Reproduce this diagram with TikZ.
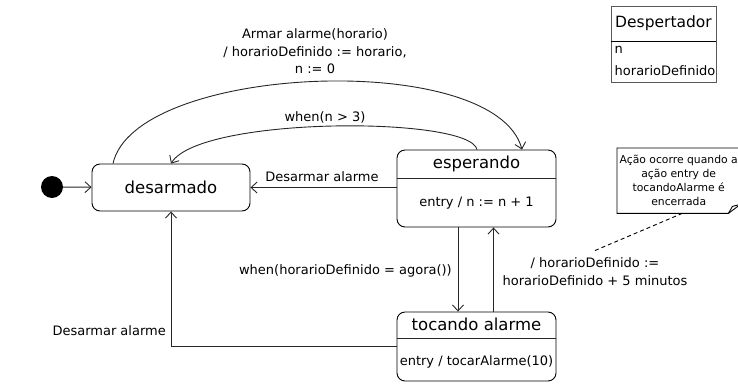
\documentclass[tikz,border=0pt]{standalone}
\usepackage{fontspec}
\setmainfont{DejaVu Sans}
\usetikzlibrary{arrows.meta}
\tikzset{
  tr/.style={draw=black!85, line width=0.9pt, -{Straight Barb[length=6pt,width=11pt,line width=0.9pt]}},
  plain/.style={draw=black!85, line width=0.9pt},
  statebox/.style={draw=black, line width=0.9pt, rounded corners=8pt, inner sep=0pt},
  big/.style={font=\fontsize{16.5}{19}\selectfont, inner sep=0pt},
  lbl/.style={font=\fontsize{13}{17.5}\selectfont, align=center, inner sep=0pt},
  notetxt/.style={font=\fontsize{10.8}{14}\selectfont, align=center, inner sep=0pt},
}
\begin{document}
\begin{tikzpicture}[x=1pt,y=-1pt]
\useasboundingbox (0,0) rectangle (738,383);
% initial
\node[circle, fill=black, minimum size=22pt, inner sep=0pt] (init) at (52,187) {};
% desarmado
\node[statebox, big, minimum width=158pt, minimum height=47pt] (des) at (171,187.5) {desarmado};
% esperando
\node[statebox, minimum width=159pt, minimum height=77pt] (esp) at (476.5,188.5) {};
\node[big] (espt) at (476.5,164) {esperando};
\coordinate (espsep) at (0,178);
\draw[plain] (esp.west |- espsep) -- (esp.east |- espsep);
\node[lbl] (espe) at (476.5,203) {entry / n := n + 1};
% tocando alarme
\node[statebox, minimum width=159pt, minimum height=69pt] (toc) at (476.5,346.5) {};
\node[big] (toct) at (476.5,324) {tocando alarme};
\coordinate (tocsep) at (0,338);
\draw[plain] (toc.west |- tocsep) -- (toc.east |- tocsep);
\node[lbl] (toce) at (476.5,362) {entry / tocarAlarme(10)};
% class box
\node[draw=black!65, line width=0.9pt, minimum width=105pt, minimum height=76pt, inner sep=0pt] (cls) at (663.5,44) {};
\node[big, font=\fontsize{15.5}{18}\selectfont] (clst) at (663.5,23) {Despertador};
\coordinate (clssep) at (0,41);
\draw[line width=0.9pt] (cls.west |- clssep) -- (cls.east |- clssep);
\node[lbl, anchor=west] (clsa) at (614.5,50) {n};
\node[lbl, anchor=west] (clsb) at (614.5,70.5) {horarioDefinido};
% note
\node[notetxt, minimum width=123pt, minimum height=65pt, anchor=north west] (note) at (617,148) {Ação ocorre quando a\\ação entry de\\tocandoAlarme é\\encerrada};
\draw[line width=0.9pt] (note.north west) -- (note.north east) -- ([yshift=9pt]note.south east) -- ([xshift=-12pt]note.south east) -- (note.south west) -- cycle;
\draw[line width=0.9pt] ([xshift=-12pt]note.south east) -- ([xshift=-8pt,yshift=7pt]note.south east) -- ([yshift=9pt]note.south east);
% transitions
\draw[tr] (init) -- (des);
\draw[tr] ([xshift=-58pt]des.north) .. controls (135,64) and (495,49) .. ([xshift=45.5pt]esp.north);
\node[lbl] (l1) at (315,51.5) {Armar alarme(horario)\\/ horarioDefinido := horario,\\n := 0};
\draw[tr] ([xshift=0.5pt]esp.north) .. controls (470,116) and (200,116) .. (des.north);
\node[lbl] (l2) at (325,117) {when(n > 3)};
\draw[tr] (esp.west |- des.east) -- (des.east);
\node[lbl] (l3) at (322,177) {Desarmar alarme};
\draw[tr] ([xshift=-18.5pt]esp.south) -- ([xshift=-18.5pt]toc.north);
\node[lbl, anchor=east] (l4) at (452,271) {when(horarioDefinido = agora())};
\draw[tr] ([xshift=17pt]toc.north) -- ([xshift=17pt]esp.south);
\node[lbl] (l5) at (595,271.5) {/ horarioDefinido :=\\horarioDefinido + 5 minutos};
\draw[tr] (toc.west) -| (des.south);
\node[lbl, anchor=east] (l6) at (166,331) {Desarmar alarme};
\draw[line width=0.9pt, dashed, dash pattern=on 4pt off 3pt] ([yshift=7pt]l5.north) -- ([xshift=3.5pt]note.south);
\end{tikzpicture}
\end{document}
